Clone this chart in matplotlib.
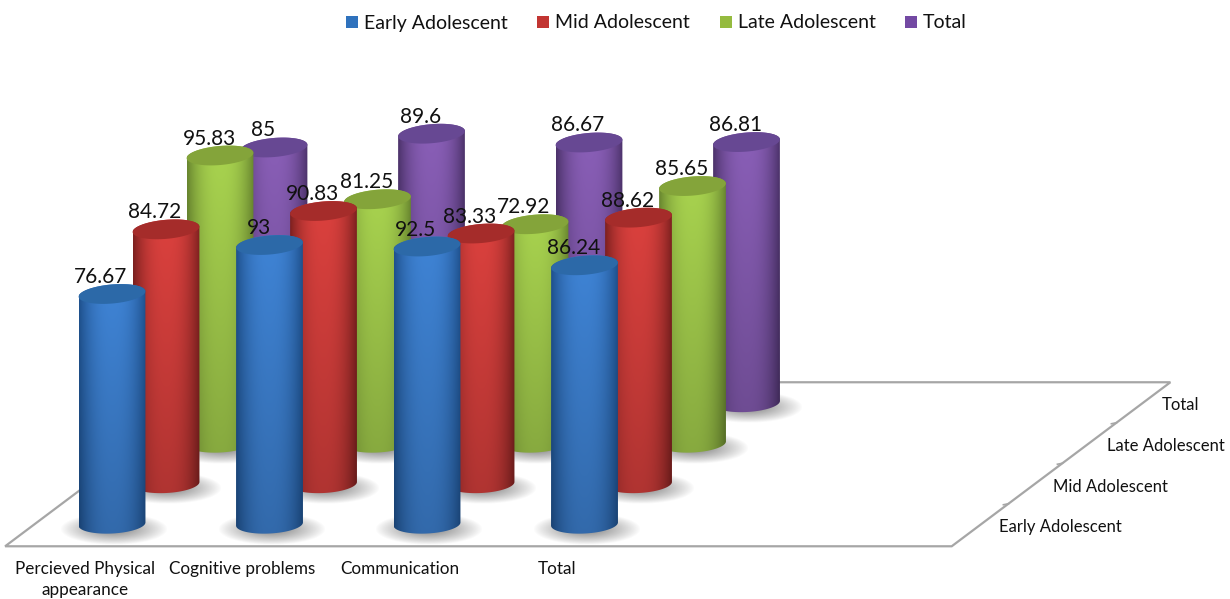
import matplotlib

matplotlib.use("Agg")
import matplotlib.pyplot as plt
import numpy as np
from matplotlib.patches import Polygon, Rectangle

plt.rcParams["font.family"] = ["Lato", "DejaVu Sans"]

categories = ["Percieved Physical\nappearance", "Cognitive problems", "Communication", "Total"]
series_names = ["Early Adolescent", "Mid Adolescent", "Late Adolescent", "Total"]

early = [76.67, 93, 92.5, 86.24]
mid = [84.72, 90.83, 83.33, 88.62]
late = [95.83, 81.25, 72.92, 85.65]
total = [85, 89.6, 86.67, 86.81]
series_values = [early, mid, late, total]

# light centre, dark edge, cap colour
colors = [
    ("#3f84d6", "#1f528f", "#2c69a8"),
    ("#dc413e", "#7f2120", "#a52c2a"),
    ("#a9d44f", "#6a8830", "#84a43a"),
    ("#8a5fb8", "#4d336c", "#674893"),
]
legend_colors = ["#2f72bd", "#c23532", "#95bb3f", "#7349a3"]

# Oblique projection of (category, series, value) onto the picture, in pixels
X0, Y0 = 112, 524
CAT_DX = 157.5
SER_DX, SER_DY = 54, -40.5
VALUE_DY = -3.0
RADIUS_X, RADIUS_Y = 33.5, 9.5


def project(cat, ser, value=0):
    return X0 + cat * CAT_DX + ser * SER_DX, Y0 + ser * SER_DY + value * VALUE_DY


def ellipse(cx, cy, angle, start=0, stop=2 * np.pi):
    t = np.linspace(start, stop, 80)
    x, y = RADIUS_X * np.cos(t), RADIUS_Y * np.sin(t)
    a = np.radians(angle)
    return np.column_stack(
        [cx + x * np.cos(a) - y * np.sin(a), cy + x * np.sin(a) + y * np.cos(a)]
    )


def to_rgb(color):
    return np.array(matplotlib.colors.to_rgb(color))


def draw_shadow(ax, cx, cy, zorder):
    w, h = 54, 16
    xx, yy = np.meshgrid(np.linspace(-1, 1, 120), np.linspace(-1, 1, 60))
    alpha = np.clip(1 - np.sqrt(xx**2 + yy**2), 0, 1) ** 0.9 * 0.72
    img = np.zeros((60, 120, 4))
    img[..., :3] = 0.3
    img[..., 3] = alpha
    ax.imshow(
        img,
        extent=(cx - w, cx + w, cy + h, cy - h),
        aspect="auto",
        zorder=zorder,
        interpolation="bilinear",
    )


def draw_cylinder(ax, cat, ser, value, zorder):
    light, dark, cap = colors[ser]
    bx, by = project(cat, ser)
    tx, ty = project(cat, ser, value)
    draw_shadow(ax, bx + 2, by + 5, zorder)

    # body: upper half of the top ellipse plus lower half of the base ellipse
    top = ellipse(tx, ty, -5, np.pi, 2 * np.pi)
    bottom = ellipse(bx, by, -3, 0, np.pi)
    outline = np.vstack([top, bottom])

    u = np.linspace(-1, 1, 120)
    shade = np.abs(u) ** 2.4
    rows = np.linspace(1.0, 0.8, 100)[:, None, None]
    img = (to_rgb(light) * (1 - shade)[:, None] + to_rgb(dark) * shade[:, None])[None, :, :]
    img = np.clip(img * rows, 0, 1)
    im = ax.imshow(
        img,
        extent=(bx - RADIUS_X, bx + RADIUS_X, by + RADIUS_Y + 2, ty - RADIUS_Y - 4),
        aspect="auto",
        zorder=zorder + 0.1,
        interpolation="bilinear",
    )
    body = Polygon(outline, closed=True, transform=ax.transData, fc="none", ec="none")
    ax.add_patch(body)
    im.set_clip_path(body)

    ax.add_patch(Polygon(ellipse(tx, ty, -5), closed=True, fc=cap, ec="none", zorder=zorder + 0.2))


def main():
    fig = plt.figure(figsize=(12.3, 5.99), dpi=100)
    ax = fig.add_axes([0, 0, 1, 1])
    ax.axis("off")

    # floor
    corners = [project(-0.49, -0.55), project(5.52, -0.55), project(5.52, 3.5), project(-0.49, 3.5)]
    ax.add_patch(Polygon(corners, closed=True, fc="white", ec="#a6a6a6", lw=1.6, zorder=1))

    # depth axis ticks and labels
    for ser in (0.5, 1.5, 2.5):
        x, y = project(5.52, ser)
        ax.plot([x - 5, x], [y + 1, y], color="#a6a6a6", lw=1.2, zorder=1.1)
    for i, name in enumerate(series_names):
        x, y = project(5.52, i)
        ax.text(x + 18, y + 3, name, fontsize=12, color="#111111", ha="left", va="center")

    # back row first so that the front cylinders overlap it
    for ser in range(3, -1, -1):
        for cat in range(len(categories)):
            draw_cylinder(ax, cat, ser, series_values[ser][cat], 10 + (3 - ser) * 2 + cat * 0.3)

    for ser, values in enumerate(series_values):
        for cat, value in enumerate(values):
            x, y = project(cat, ser, value)
            ax.text(x - 11, y - 17, f"{value:g}", fontsize=15, color="#111111", ha="center",
                    va="center", zorder=40)

    for cat, name in enumerate(categories):
        x, _ = project(cat, -0.55)
        ax.text(x + 2.5, 561, name, fontsize=12.3, color="#111111", ha="center", va="top",
                linespacing=1.38, zorder=40)

    # legend
    swatch_x = [346, 537, 720, 905]
    for left, color, name in zip(swatch_x, legend_colors, series_names):
        ax.add_patch(Rectangle((left, 16), 12, 12, fc=color, ec="none"))
        ax.text(left + 18, 23, name, fontsize=14, color="#111111", ha="left", va="center")

    ax.set_xlim(0, 1230)
    ax.set_ylim(599, 0)
    fig.savefig("out.png", dpi=100)


if __name__ == "__main__":
    main()
